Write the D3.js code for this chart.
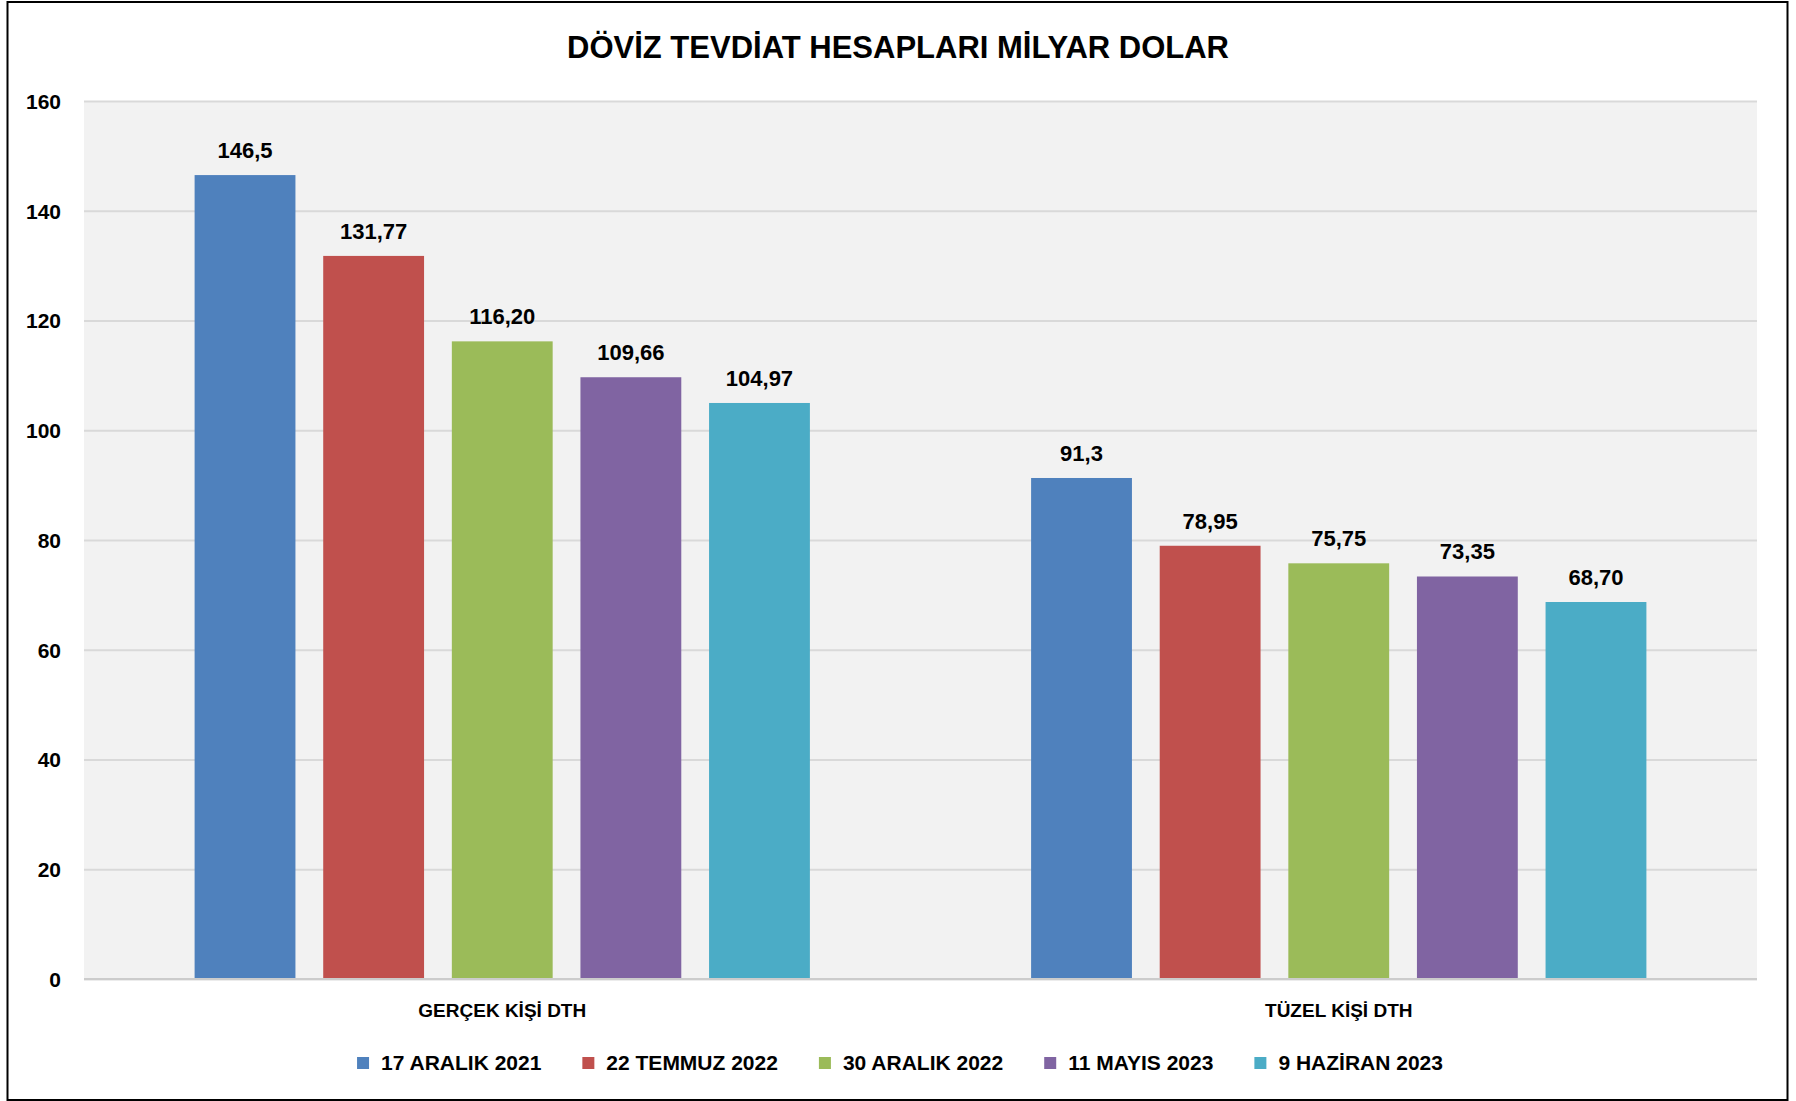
<!DOCTYPE html>
<html>
<head>
<meta charset="utf-8">
<script src="https://cdn.jsdelivr.net/npm/d3@7"></script>
<style>
  body { margin: 0; background: #fff; }
  svg text { font-family: "Liberation Sans", Arial, sans-serif; font-weight: bold; fill: #000; }
</style>
</head>
<body>
<div id="chart"></div>
<script>
const title = "DÖVİZ TEVDİAT HESAPLARI MİLYAR DOLAR";
const categories = ["GERÇEK KİŞİ DTH", "TÜZEL KİŞİ DTH"];
const seriesNames = ["17 ARALIK 2021", "22 TEMMUZ 2022", "30 ARALIK 2022", "11 MAYIS 2023", "9 HAZİRAN 2023"];
const gercekValues = [146.5, 131.77, 116.2, 109.66, 104.97];
const tuzelValues = [91.3, 78.95, 75.75, 73.35, 68.7];
const gercekLabels = ["146,5", "131,77", "116,20", "109,66", "104,97"];
const tuzelLabels = ["91,3", "78,95", "75,75", "73,35", "68,70"];
const yTicks = [0, 20, 40, 60, 80, 100, 120, 140, 160];
const colors = ["#4F81BD", "#C0504D", "#9BBB59", "#8064A2", "#4BACC6"];

const width = 1796;
const height = 1101;
const plot = { left: 84, right: 1757, top: 101, bottom: 979 };

const rows = [
  { cat: categories[0], values: gercekValues, labels: gercekLabels },
  { cat: categories[1], values: tuzelValues, labels: tuzelLabels },
];

const svg = d3
  .select("#chart")
  .append("svg")
  .attr("width", width)
  .attr("height", height);

// outer frame
svg
  .append("rect")
  .attr("x", 7.5)
  .attr("y", 2)
  .attr("width", 1780)
  .attr("height", 1098)
  .attr("fill", "#fff")
  .attr("stroke", "#000")
  .attr("stroke-width", 2);

svg
  .append("text")
  .attr("x", 898)
  .attr("y", 58)
  .attr("text-anchor", "middle")
  .style("font-size", "31px")
  .text(title);

const x0 = d3
  .scaleBand()
  .domain(categories)
  .range([plot.left, plot.right])
  .padding(0);

const x1 = d3
  .scaleBand()
  .domain(seriesNames)
  .range([0, x0.bandwidth()])
  .paddingInner(0.216)
  .paddingOuter(0.86);

const y = d3
  .scaleLinear()
  .domain([0, 160])
  .range([plot.bottom, plot.top]);

svg
  .append("rect")
  .attr("x", plot.left)
  .attr("y", plot.top)
  .attr("width", plot.right - plot.left)
  .attr("height", plot.bottom - plot.top)
  .attr("fill", "#f2f2f2");

// gridlines
const grid = svg
  .append("g")
  .attr("transform", `translate(${plot.left},0)`)
  .call(d3.axisLeft(y).tickValues(yTicks).tickSize(-(plot.right - plot.left)).tickFormat(""));
grid.select(".domain").remove();
grid.selectAll("line").attr("stroke", "#d9d9d9").attr("stroke-width", 2);

// y labels
const yAxis = svg
  .append("g")
  .attr("transform", `translate(${plot.left},0)`)
  .call(d3.axisLeft(y).tickValues(yTicks).tickSize(0).tickPadding(23));
yAxis.select(".domain").remove();
yAxis.selectAll("text").style("font-size", "21px").attr("dy", "0.35em");

const groups = svg
  .selectAll(".group")
  .data(rows)
  .enter()
  .append("g")
  .attr("class", "group")
  .attr("transform", (d) => `translate(${x0(d.cat)},0)`);

groups
  .selectAll("rect")
  .data((d) => d.values.map((v, i) => ({ v, i, label: d.labels[i] })))
  .enter()
  .append("rect")
  .attr("x", (d) => x1(seriesNames[d.i]))
  .attr("y", (d) => y(d.v))
  .attr("width", x1.bandwidth())
  .attr("height", (d) => y(0) - y(d.v))
  .attr("fill", (d) => colors[d.i]);

groups
  .selectAll(".val")
  .data((d) => d.values.map((v, i) => ({ v, i, label: d.labels[i] })))
  .enter()
  .append("text")
  .attr("class", "val")
  .attr("x", (d) => x1(seriesNames[d.i]) + x1.bandwidth() / 2)
  .attr("y", (d) => y(d.v) - 17)
  .attr("text-anchor", "middle")
  .style("font-size", "22px")
  .text((d) => d.label);

// x axis line
svg
  .append("line")
  .attr("x1", plot.left)
  .attr("x2", plot.right)
  .attr("y1", y(0))
  .attr("y2", y(0))
  .attr("stroke", "#cccccc")
  .attr("stroke-width", 2);

const xAxis = svg
  .append("g")
  .attr("transform", `translate(0,${plot.bottom})`)
  .call(d3.axisBottom(x0).tickSize(0).tickPadding(38));
xAxis.select(".domain").remove();
xAxis.selectAll("text").style("font-size", "19px").attr("dy", "0");

// legend
const legend = svg.append("g");
const items = legend
  .selectAll("g")
  .data(seriesNames)
  .enter()
  .append("g");
items
  .append("rect")
  .attr("width", 12)
  .attr("height", 12)
  .attr("y", 1057)
  .attr("fill", (d, i) => colors[i]);
items
  .append("text")
  .attr("y", 1070)
  .style("font-size", "21px")
  .text((d) => d);

const widths = [];
items.select("text").each(function () {
  widths.push(this.getComputedTextLength());
});
const total = d3.sum(widths) + seriesNames.length * 24 + (seriesNames.length - 1) * 41;
let cursor = 900 - total / 2;
items.each(function (d, i) {
  d3.select(this).attr("transform", `translate(${cursor},0)`);
  d3.select(this).select("text").attr("x", 24);
  cursor += 24 + widths[i] + 41;
});
</script>
</body>
</html>
